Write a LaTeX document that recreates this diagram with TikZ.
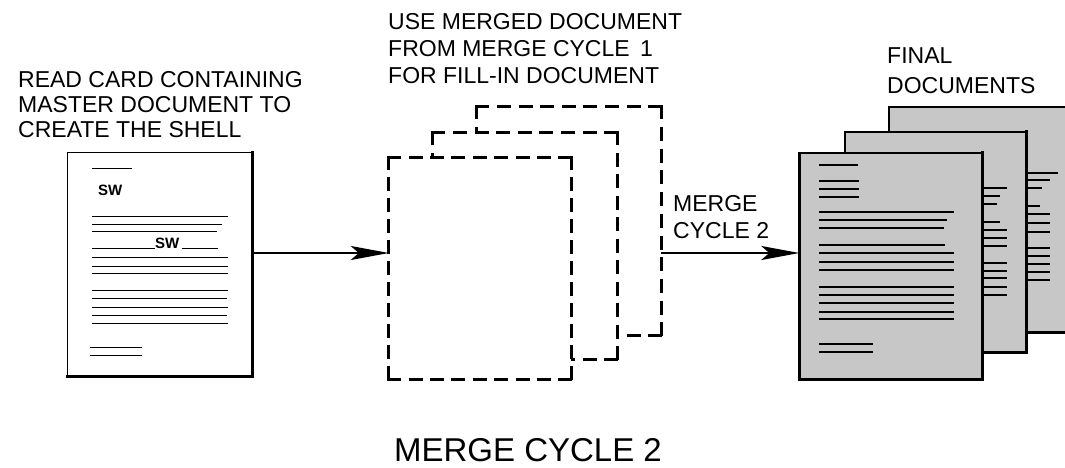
\documentclass[tikz,border=0pt]{standalone}
\usepackage{fontspec}
\setmainfont{Liberation Sans}
\usetikzlibrary{arrows.meta}
\begin{document}
\begin{tikzpicture}[x=1pt,y=-1pt,
  lbl/.style={font=\fontsize{23}{27}\selectfont, align=left, anchor=north west, inner sep=0pt},
  wpaper/.style={rectangle, inner sep=0pt, fill=white},
  gpaper/.style={rectangle, inner sep=0pt, fill=black!22, draw=black, line width=1.4pt},
  edge/.style={line width=3pt, line cap=rect},
  dl/.style={line width=3pt, line cap=rect},
  txtline/.style={line width=0.9pt},
  gline/.style={line width=1.3pt},
  swlbl/.style={font=\bfseries\fontsize{15}{15}\selectfont, anchor=base west, inner sep=0pt},
  flow/.style={line width=2.6pt, -{Stealth[length=38pt,width=14pt,inset=8pt]}},
]
\useasboundingbox (0,0) rectangle (1065,467);
\clip (0,0) rectangle (1065,467);

% ---------- labels ----------
\node[lbl, font=\fontsize{23}{25}\selectfont] (lt) at (18,71) {READ CARD CONTAINING\\MASTER DOCUMENT TO\\CREATE THE SHELL};
\node[lbl] (mt) at (388,13) {USE MERGED DOCUMENT\\FROM MERGE CYCLE\hspace{4pt} 1\\FOR FILL-IN DOCUMENT};
\node[lbl, font=\fontsize{23}{30}\selectfont] (rt) at (887,47) {FINAL\\DOCUMENTS};
\node[lbl] (ml) at (673,195) {MERGE\\CYCLE 2};
\node[font=\fontsize{33}{33}\selectfont, anchor=base, inner sep=0pt] (title) at (528,461) {MERGE CYCLE 2};

% ---------- master document ----------
\node[wpaper, minimum width=184pt, minimum height=223pt] (ldoc) at (160,264.5) {};
\draw[line width=1.2pt] (ldoc.south west) -- (ldoc.north west) -- (ldoc.north east);
\draw[edge] (ldoc.north east) -- (ldoc.south east) -- (ldoc.south west);
\draw[txtline] (92,168) -- (132,168);
\node[swlbl] (sw1) at (98,195) {SW};
\foreach \y/\e in {216/228,224/222,231/217,257/228,266/228,273/228,290/228,298/227,307/228,315/227,323/228}
  \draw[txtline] (92,\y) -- (\e,\y);
\node[swlbl] (sw2) at (155,248) {SW};
\draw[txtline] (92,248) -- (sw2.base west);
\draw[txtline] ([xshift=2pt]sw2.base east) -- (218,248);
\draw[txtline] (90,347) -- (142,347);
\draw[txtline] (90,355) -- (142,355);

% ---------- dashed fill-in documents ----------
\node[wpaper, minimum width=184pt, minimum height=228pt] (dback) at (569,221) {};
\draw[dl, dash pattern=on 11pt off 10.625pt] (dback.north west) -- (dback.north east);
\draw[dl, dash pattern=on 11pt off 10.625pt] (dback.south west) -- (dback.south east);
\draw[dl, dash pattern=on 11pt off 10.7pt] (dback.north west) -- (dback.south west);
\draw[dl, dash pattern=on 11pt off 10.7pt] (dback.north east) -- (dback.south east);

\node[wpaper, minimum width=184pt, minimum height=226pt] (dmid) at (525,246) {};
\draw[dl, dash pattern=on 11pt off 10.625pt] (dmid.north west) -- (dmid.north east);
\draw[dl, dash pattern=on 11pt off 10.625pt] (dmid.south west) -- (dmid.south east);
\draw[dl, dash pattern=on 11pt off 10.5pt] (dmid.north west) -- (dmid.south west);
\draw[dl, dash pattern=on 11pt off 10.5pt] (dmid.north east) -- (dmid.south east);

\node[wpaper, minimum width=182pt, minimum height=221pt] (dfront) at (480,268.5) {};
\draw[dl, dash pattern=on 11pt off 10.375pt] (dfront.north west) -- (dfront.north east);
\draw[dl, dash pattern=on 11pt off 10.375pt] (dfront.south west) -- (dfront.south east);
\draw[dl, dash pattern=on 11pt off 10pt] (dfront.north west) -- (dfront.south west);
\draw[dl, dash pattern=on 11pt off 10pt] (dfront.north east) -- (dfront.south east);

% ---------- final documents ----------
\node[gpaper, minimum width=186pt, minimum height=225pt] (fback) at (982,219.5) {};
\draw[edge] (fback.north east) -- (fback.south east) -- (fback.south west);
\foreach \y/\e in {173/1058,180/1050,188/1042,206/1040,214/1050,223/1050,232/1050,248/1050,256/1050,264/1050,272/1050,280/1050}
  \draw[gline] (908,\y) -- (\e,\y);

\node[gpaper, minimum width=181pt, minimum height=220pt] (fmid) at (935.5,242) {};
\draw[edge] (fmid.north east) -- (fmid.south east) -- (fmid.south west);
\foreach \y/\e in {188/1007,196/1000,204/997,222/1000,230/1007,238/1007,246/1007,263/1007,271/1007,278/1007,287/1007,295/1007}
  \draw[gline] (864,\y) -- (\e,\y);

\node[gpaper, minimum width=182pt, minimum height=226pt] (ffront) at (891,266) {};
\draw[edge] (ffront.north east) -- (ffront.south east) -- (ffront.south west);
\draw[line width=2.4pt] (ffront.south west) -- (ffront.north west);
\foreach \y/\e in {165/858,181/859,189/859,197/859,212/954,220/947,228/944,245/945,253/954,262/954,270/954,287/954,295/954,303/954,312/954,319/954,344/873,352/873}
  \draw[gline] (819,\y) -- (\e,\y);

% ---------- flow arrows ----------
\coordinate (lev) at (0,253);
\draw[flow] (ldoc.east |- lev) -- (dfront.west |- lev);
\draw[flow] (dback.east |- lev) -- (ffront.west |- lev);
\end{tikzpicture}
\end{document}
